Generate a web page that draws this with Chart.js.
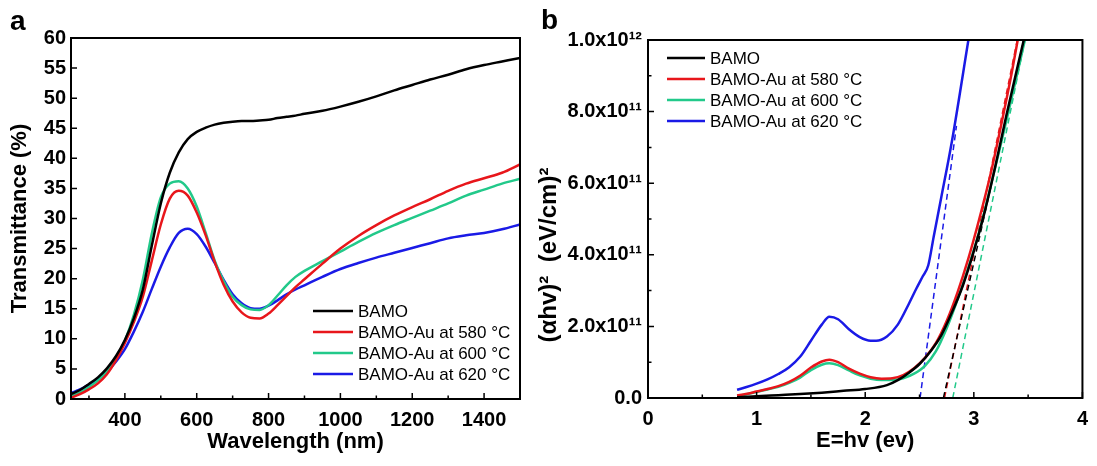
<!DOCTYPE html>
<html>
<head>
<meta charset="utf-8">
<script src="https://cdn.jsdelivr.net/npm/chart.js@4.4.0/dist/chart.umd.min.js"></script>
<style>
  body { margin: 0; background: #fff; }
  #wrap { position: relative; width: 1097px; height: 466px; overflow: hidden; }
  canvas { position: absolute; top: 0; }
  #transChart { left: 0; }
  #taucChart { left: 525px; }
  .panel { position: absolute; font: bold 28px "Liberation Sans", Arial, sans-serif; line-height: 1; }
</style>
</head>
<body>
<div id="wrap">
  <canvas id="transChart" width="525" height="466"></canvas>
  <canvas id="taucChart" width="572" height="466"></canvas>
  <div class="panel" style="left:10px;top:7px">a</div>
  <div class="panel" style="left:541px;top:6px">b</div>
</div>
<script>
const FONT = '"Liberation Sans", Arial, sans-serif';
const BLACK = '#000000', RED = '#e8161b', GREEN = '#22c98a', BLUE = '#1a1ae6';

// panel a: transmittance (%) vs wavelength (nm)
const wavelength = [250, 275, 300, 325, 350, 375, 400, 425, 450, 475, 500, 525, 550, 575, 600, 625, 650, 675, 700, 725,
  750, 775, 800, 825, 850, 875, 900, 950, 1000, 1050, 1100, 1150, 1200, 1250, 1300, 1350, 1400, 1450, 1500];
const tBamo = [0.8, 1.5, 2.5, 3.6, 5.1, 7.1, 9.8, 13.4, 18.2, 25.5, 32.5, 37.6, 41.0, 43.2, 44.4, 45.1, 45.6, 45.9, 46.1, 46.2,
  46.2, 46.3, 46.4, 46.7, 46.9, 47.1, 47.4, 47.9, 48.6, 49.4, 50.3, 51.3, 52.2, 53.1, 53.9, 54.8, 55.5, 56.1, 56.7];
const tAu580 = [0.2, 0.8, 1.6, 2.6, 4.1, 6.4, 9.3, 12.8, 17.0, 23.0, 29.0, 33.3, 34.6, 33.8, 31.0, 27.2, 22.8, 19.0, 16.2, 14.4,
  13.5, 13.4, 14.2, 15.6, 17.1, 18.6, 19.9, 22.5, 25.0, 27.1, 28.9, 30.5, 31.9, 33.2, 34.6, 35.8, 36.7, 37.6, 39.0];
const tAu600 = [0.45, 1.1, 2.0, 3.1, 4.6, 6.8, 9.7, 14.0, 19.8, 27.5, 33.5, 35.8, 36.2, 35.0, 32.0, 27.6, 23.0, 19.6, 17.0, 15.6,
  14.9, 14.8, 15.6, 17.2, 18.9, 20.3, 21.3, 22.9, 24.5, 26.1, 27.6, 28.9, 30.1, 31.3, 32.5, 33.8, 34.8, 35.8, 36.6];
const tAu620 = [1.0, 1.6, 2.4, 3.3, 4.5, 6.2, 8.3, 11.2, 14.5, 18.3, 22.0, 25.2, 27.6, 28.3, 27.4, 25.3, 22.6, 19.8, 17.4, 15.9,
  15.1, 15.0, 15.5, 16.4, 17.4, 18.2, 18.9, 20.3, 21.6, 22.6, 23.5, 24.3, 25.1, 25.9, 26.7, 27.2, 27.6, 28.2, 29.0];
const wlTicks = [400, 600, 800, 1000, 1200, 1400];
const wlMinor = [300, 500, 700, 900, 1100, 1300, 1500];
const transTicks = [0, 5, 10, 15, 20, 25, 30, 35, 40, 45, 50, 55, 60];

// panel b: (ahv)^2 in units of 1e11, vs photon energy (eV)
const eBamo = [0.82, 1.0, 1.2, 1.4, 1.6, 1.8, 2.0, 2.2, 2.3, 2.4, 2.5, 2.6, 2.7, 2.8, 2.9, 3.0, 3.1, 3.2, 3.3, 3.46];
const aBamo = [0.02, 0.05, 0.08, 0.11, 0.15, 0.2, 0.25, 0.36, 0.5, 0.7, 0.95, 1.3, 1.75, 2.4, 3.15, 4.1, 5.2, 6.5, 7.9, 10.0];
const eAu = [0.82, 0.9, 1.0, 1.1, 1.2, 1.3, 1.4, 1.5, 1.6, 1.67, 1.75, 1.85, 1.95, 2.05, 2.15, 2.25, 2.35, 2.45,
  2.55, 2.65, 2.75, 2.85, 2.95, 3.05, 3.15, 3.25, 3.35, 3.47];
const aAu580 = [0.07, 0.11, 0.18, 0.25, 0.33, 0.45, 0.62, 0.85, 1.02, 1.07, 1.0, 0.82, 0.68, 0.58, 0.54, 0.55, 0.64, 0.83,
  1.12, 1.53, 2.15, 2.95, 3.9, 5.0, 6.2, 7.6, 9.1, 11.1];
const aAu600 = [0.06, 0.1, 0.17, 0.24, 0.31, 0.42, 0.57, 0.78, 0.93, 0.97, 0.92, 0.77, 0.63, 0.54, 0.5, 0.5, 0.55, 0.68,
  0.9, 1.3, 1.95, 2.75, 3.65, 4.65, 5.85, 7.1, 8.4, 10.0];
const eAu620 = [0.82, 0.9, 1.0, 1.1, 1.2, 1.3, 1.4, 1.5, 1.6, 1.67, 1.75, 1.85, 1.95, 2.05, 2.1, 2.2, 2.3, 2.4, 2.47,
  2.53, 2.58, 2.63, 2.7, 2.8, 2.95];
const aAu620 = [0.23, 0.3, 0.4, 0.52, 0.67, 0.86, 1.15, 1.6, 2.05, 2.27, 2.2, 1.92, 1.7, 1.6, 1.6, 1.72, 2.05, 2.62, 3.05,
  3.4, 3.7, 4.5, 5.6, 7.2, 10.0];
// linear extrapolations to the band gap (dashed)
const fitBamoE = [2.72, 3.46], fitBamoA = [0, 10];
const fit580E = [2.73, 3.40], fit580A = [0, 10];
const fit600E = [2.806, 3.47], fit600A = [0, 10];
const fit620E = [2.505, 2.84], fit620A = [0, 7.6];
const energyTicks = [0, 1, 2, 3, 4];
const energyMinor = [0.5, 1.5, 2.5, 3.5];
const absTicks = [0, 2e11, 4e11, 6e11, 8e11, 1e12];
const absMinor = [1e11, 3e11, 5e11, 7e11, 9e11];

function pairs(xs, ys, k = 1) {
  return xs.map((x, i) => ({ x: x, y: ys[i] * k }));
}

const SUP = { '0': '\u2070', '1': '\u00b9', '2': '\u00b2', '3': '\u00b3', '4': '\u2074', '5': '\u2075',
  '6': '\u2076', '7': '\u2077', '8': '\u2078', '9': '\u2079' };
function sciLabel(v) {
  if (v === 0) return '0.0';
  const e = Math.floor(Math.log10(v) + 1e-9);
  const m = (v / Math.pow(10, e)).toFixed(1);
  return m + 'x10' + String(e).split('').map(c => SUP[c]).join('');
}

// inward tick marks + closed frame
const frameTicks = {
  id: 'frameTicks',
  afterDatasetsDraw(chart, args, opts) {
    const { ctx, chartArea: a } = chart;
    const x = chart.scales.x, y = chart.scales.y;
    ctx.save();
    ctx.strokeStyle = '#000';
    ctx.lineWidth = 1.5;
    ctx.beginPath();
    const xt = (vals, len) => vals.forEach(v => {
      const px = x.getPixelForValue(v);
      ctx.moveTo(px, a.bottom); ctx.lineTo(px, a.bottom - len);
    });
    const yt = (vals, len) => vals.forEach(v => {
      const py = y.getPixelForValue(v);
      ctx.moveTo(a.left, py); ctx.lineTo(a.left + len, py);
    });
    xt(opts.xMajor, 6); xt(opts.xMinor, 3.5);
    yt(opts.yMajor, 6); yt(opts.yMinor, 3.5);
    ctx.stroke();
    ctx.lineWidth = 2;
    ctx.strokeRect(a.left, a.top, a.right - a.left, a.bottom - a.top);
    ctx.restore();
  }
};

// legend placed inside the plot box
const boxLegend = {
  id: 'boxLegend',
  afterDatasetsDraw(chart, args, opts) {
    const ctx = chart.ctx;
    ctx.save();
    ctx.font = '17px ' + FONT;
    ctx.textBaseline = 'middle';
    let row = 0;
    chart.data.datasets.forEach(ds => {
      if (!ds.label) return;
      const yy = opts.top + row * opts.gap;
      ctx.strokeStyle = ds.borderColor;
      ctx.lineWidth = 2.5;
      ctx.beginPath();
      ctx.moveTo(opts.left, yy);
      ctx.lineTo(opts.left + opts.len, yy);
      ctx.stroke();
      ctx.fillStyle = '#000';
      ctx.fillText(ds.label, opts.left + opts.len + 5, yy + 1);
      row++;
    });
    ctx.restore();
  }
};

// rotated y title for panel b
const sideTitle = {
  id: 'sideTitle',
  afterDraw(chart, args, opts) {
    const ctx = chart.ctx;
    ctx.save();
    ctx.translate(opts.x, opts.y);
    ctx.rotate(-Math.PI / 2);
    ctx.font = 'bold 24px ' + FONT;
    ctx.fillStyle = '#000';
    ctx.textAlign = 'center';
    ctx.textBaseline = 'middle';
    ctx.fillText(opts.text, 0, 0);
    ctx.restore();
  }
};

const tickFont = { family: FONT, size: 20, weight: 'bold' };
const titleFont = { family: FONT, size: 22, weight: 'bold' };

function curve(label, data, color) {
  return { label: label, data: data, borderColor: color, borderWidth: 2.5, pointRadius: 0,
    showLine: true, cubicInterpolationMode: 'monotone', fill: false };
}
function fitLine(data, color) {
  return { data: data, borderColor: color, borderWidth: 1.5, borderDash: [6, 4], pointRadius: 0,
    showLine: true, fill: false };
}

new Chart(document.getElementById('transChart'), {
  type: 'scatter',
  data: {
    datasets: [
      curve('BAMO', pairs(wavelength, tBamo), BLACK),
      curve('BAMO-Au at 580 \u00b0C', pairs(wavelength, tAu580), RED),
      curve('BAMO-Au at 600 \u00b0C', pairs(wavelength, tAu600), GREEN),
      curve('BAMO-Au at 620 \u00b0C', pairs(wavelength, tAu620), BLUE)
    ]
  },
  options: {
    responsive: false,
    animation: false,
    layout: { padding: { top: 38, right: 5, left: 0, bottom: 0 } },
    plugins: {
      legend: { display: false },
      tooltip: { enabled: false },
      frameTicks: { xMajor: wlTicks, xMinor: wlMinor, yMajor: transTicks, yMinor: [] },
      boxLegend: { left: 313, top: 311, gap: 21, len: 40 }
    },
    scales: {
      x: {
        type: 'linear', min: 250, max: 1500,
        afterBuildTicks: s => { s.ticks = wlTicks.map(v => ({ value: v })); },
        afterFit: s => { s.height = 67; },
        grid: { display: false, drawTicks: false },
        border: { display: false },
        ticks: { font: tickFont, color: '#000', padding: 9, maxRotation: 0, autoSkip: false, callback: v => String(v) },
        title: { display: true, text: 'Wavelength (nm)', font: titleFont, color: '#000', padding: { top: 0, bottom: 11 } }
      },
      y: {
        type: 'linear', min: 0, max: 60,
        afterBuildTicks: s => { s.ticks = transTicks.map(v => ({ value: v })); },
        afterFit: s => { s.width = 71; },
        grid: { display: false, drawTicks: false },
        border: { display: false },
        ticks: { font: tickFont, color: '#000', padding: 5, autoSkip: false, callback: v => String(v) },
        title: { display: true, text: 'Transmittance (%)', font: titleFont, color: '#000', padding: { top: 7, bottom: 0 } }
      }
    }
  },
  plugins: [frameTicks, boxLegend]
});

new Chart(document.getElementById('taucChart'), {
  type: 'scatter',
  data: {
    datasets: [
      curve('BAMO', pairs(eBamo, aBamo, 1e11), BLACK),
      curve('BAMO-Au at 580 \u00b0C', pairs(eAu, aAu580, 1e11), RED),
      curve('BAMO-Au at 600 \u00b0C', pairs(eAu, aAu600, 1e11), GREEN),
      curve('BAMO-Au at 620 \u00b0C', pairs(eAu620, aAu620, 1e11), BLUE),
      fitLine(pairs(fitBamoE, fitBamoA, 1e11), BLACK),
      fitLine(pairs(fit580E, fit580A, 1e11), RED),
      fitLine(pairs(fit600E, fit600A, 1e11), GREEN),
      fitLine(pairs(fit620E, fit620A, 1e11), BLUE)
    ]
  },
  options: {
    responsive: false,
    animation: false,
    layout: { padding: { top: 40, right: 5, left: 0, bottom: 0 } },
    plugins: {
      legend: { display: false },
      tooltip: { enabled: false },
      frameTicks: { xMajor: energyTicks, xMinor: energyMinor, yMajor: absTicks, yMinor: absMinor },
      boxLegend: { left: 142, top: 58, gap: 21, len: 38 },
      sideTitle: { x: 24, y: 255, text: '(\u03b1hv)\u00b2  (eV/cm)\u00b2' }
    },
    scales: {
      x: {
        type: 'linear', min: 0, max: 4,
        afterBuildTicks: s => { s.ticks = energyTicks.map(v => ({ value: v })); },
        afterFit: s => { s.height = 68; },
        grid: { display: false, drawTicks: false },
        border: { display: false },
        ticks: { font: tickFont, color: '#000', padding: 9, maxRotation: 0, autoSkip: false, callback: v => String(v) },
        title: { display: true, text: 'E=hv (ev)', font: titleFont, color: '#000', padding: { top: 0, bottom: 12 } }
      },
      y: {
        type: 'linear', min: 0, max: 1e12,
        afterBuildTicks: s => { s.ticks = absTicks.map(v => ({ value: v })); },
        afterFit: s => { s.width = 123; },
        grid: { display: false, drawTicks: false },
        border: { display: false },
        ticks: { font: tickFont, color: '#000', padding: 6, autoSkip: false, callback: v => sciLabel(v) },
        title: { display: false }
      }
    }
  },
  plugins: [frameTicks, boxLegend, sideTitle]
});
</script>
</body>
</html>
